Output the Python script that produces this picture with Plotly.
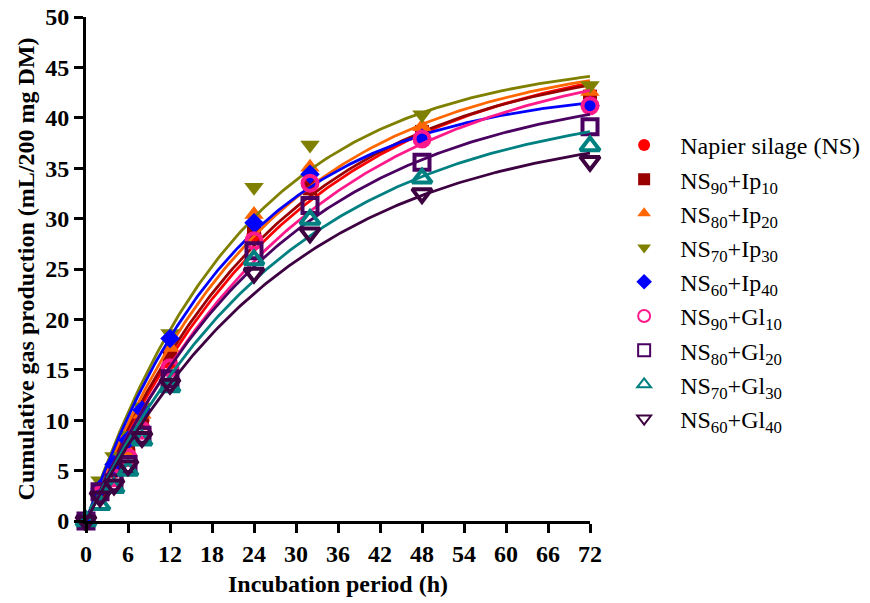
import numpy as np
import plotly.graph_objects as go

# Incubation times (h)
hours = [0, 2, 4, 6, 8, 12, 24, 32, 48, 72]

# Observed cumulative gas production (mL/200 mg DM)
ns = [0, 3.0, 5.0, 7.0, 10.0, 15.8, 28.4, 33.5, 37.8, 41.4]
ns90_ip10 = [0, 3.0, 5.2, 7.2, 9.7, 16.3, 28.9, 33.0, 38.6, 42.1]
ns80_ip20 = [0, 3.2, 5.0, 6.9, 10.6, 17.2, 30.4, 35.1, 39.1, 42.6]
ns70_ip30 = [0, 4.0, 6.4, 8.5, 11.3, 18.6, 33.1, 37.3, 40.3, 43.2]
ns60_ip40 = [0, 3.2, 5.6, 8.0, 11.0, 18.1, 29.6, 34.4, 38.0, 41.2]
ns90_gl10 = [0, 2.6, 4.3, 6.3, 9.0, 15.2, 27.8, 33.5, 37.9, 41.2]
ns80_gl20 = [0, 2.9, 3.8, 5.6, 8.5, 14.1, 26.8, 31.3, 35.6, 39.1]
ns70_gl30 = [0, 1.6, 3.3, 5.0, 8.0, 13.3, 25.9, 29.9, 34.0, 37.2]
ns60_gl40 = [0, 2.4, 3.6, 5.5, 8.3, 13.6, 24.6, 28.6, 32.5, 35.7]

# Fitted exponential model y = b * (1 - exp(-c t)) for each treatment
fit_b = [47.3, 46.5, 46.5, 46.0, 43.1, 47.1, 43.6, 42.0, 39.7]
fit_c = [0.0348, 0.0369, 0.0390, 0.0443, 0.0457, 0.0330, 0.0360, 0.0350, 0.0350]

labels = [
    "Napier silage (NS)",
    "NS<sub>90</sub>+Ip<sub>10</sub>",
    "NS<sub>80</sub>+Ip<sub>20</sub>",
    "NS<sub>70</sub>+Ip<sub>30</sub>",
    "NS<sub>60</sub>+Ip<sub>40</sub>",
    "NS<sub>90</sub>+Gl<sub>10</sub>",
    "NS<sub>80</sub>+Gl<sub>20</sub>",
    "NS<sub>70</sub>+Gl<sub>30</sub>",
    "NS<sub>60</sub>+Gl<sub>40</sub>",
]
series = [ns, ns90_ip10, ns80_ip20, ns70_ip30, ns60_ip40,
          ns90_gl10, ns80_gl20, ns70_gl30, ns60_gl40]
colors = ["#ff0000", "#990000", "#ff6600", "#808000", "#0000ff",
          "#ff1a8c", "#4a0060", "#008080", "#3d0040"]
symbols = ["circle", "square", "triangle-up", "triangle-down", "diamond",
           "circle-open", "square-open", "triangle-up-open", "triangle-down-open"]
sizes = [15, 14, 17, 17, 15, 15, 15, 17, 17]

SERIF = "Liberation Serif"

t_fit = np.linspace(0, 72, 200)

fig = go.Figure()
for i, vals in enumerate(series):
    curve = fit_b[i] * (1 - np.exp(-fit_c[i] * t_fit))
    fig.add_trace(go.Scatter(
        x=t_fit, y=curve, mode="lines",
        line=dict(color=colors[i], width=2.8),
        showlegend=False, hoverinfo="skip", cliponaxis=False,
        legendgroup=f"g{i}",
    ))
    is_open = symbols[i].endswith("open")
    fig.add_trace(go.Scatter(
        x=hours, y=vals, mode="markers", name=labels[i],
        marker=dict(symbol=symbols[i], size=sizes[i], color=colors[i],
                    line=dict(width=4 if is_open else 0, color=colors[i])),
        cliponaxis=False, legendgroup=f"g{i}",
    ))

tick_font = dict(family=SERIF, size=24, color="black", weight="bold")
fig.update_layout(
    width=870, height=603,
    margin=dict(l=86, r=280, t=17, b=82, autoexpand=False),
    paper_bgcolor="white", plot_bgcolor="white",
    font=dict(family=SERIF, color="black"),
    xaxis=dict(
        range=[0, 72], tickmode="array", tickvals=list(range(0, 73, 6)),
        showline=True, linecolor="black", linewidth=3,
        ticks="outside", ticklen=9, tickwidth=3, tickcolor="black",
        showgrid=False, zeroline=False, tickfont=tick_font, automargin=False,
        title=dict(text="Incubation period (h)",
                   font=dict(family=SERIF, size=24, weight="bold"), standoff=10),
    ),
    yaxis=dict(
        range=[0, 50], tickmode="array", tickvals=list(range(0, 51, 5)),
        showline=True, linecolor="black", linewidth=3,
        ticks="outside", ticklen=9, tickwidth=3, tickcolor="black",
        showgrid=False, zeroline=False, tickfont=tick_font, automargin=False,
        title=dict(text="Cumulative gas production (mL/200 mg DM)",
                   font=dict(family=SERIF, size=24, weight="bold"), standoff=4),
    ),
    legend=dict(
        x=1.036, y=0.79, xanchor="left", yanchor="top",
        font=dict(family=SERIF, size=24, color="black"),
        bgcolor="rgba(0,0,0,0)", itemsizing="constant", itemwidth=62,
        traceorder="grouped", tracegroupgap=0,
    ),
)

fig.write_html("out.html")
